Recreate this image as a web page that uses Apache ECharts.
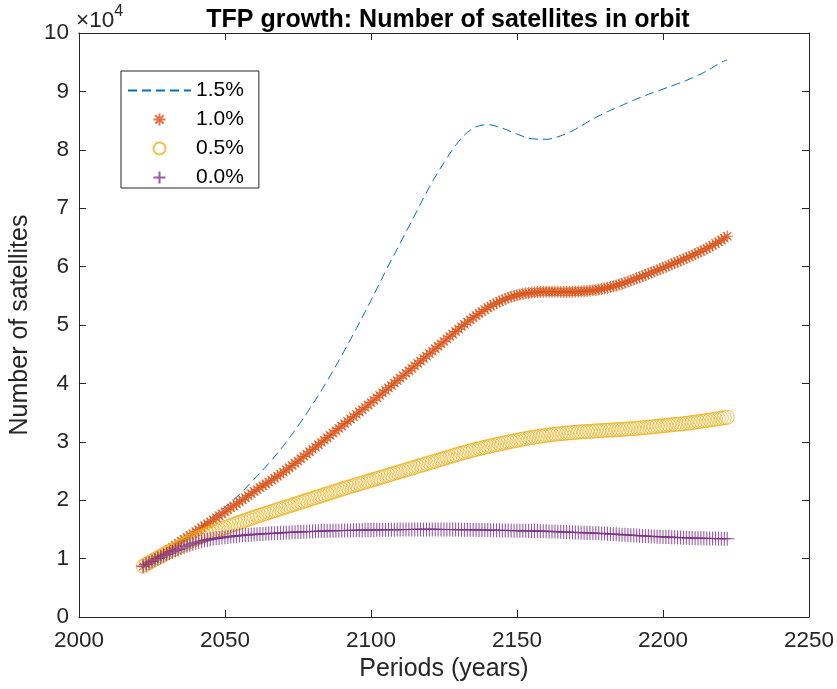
<!DOCTYPE html>
<html>
<head>
<meta charset="utf-8">
<script src="https://cdn.jsdelivr.net/npm/echarts@6/dist/echarts.min.js"></script>
<style>
  html, body { margin: 0; padding: 0; background: #fff; }
  #chart { width: 837px; height: 689px; }
</style>
</head>
<body>
<div id="chart"></div>
<script>
// Simulation output: number of satellites in orbit under four TFP growth rates.
const startYear = 2022;

// 1.5% growth (dashed line), sampled every five years
const years15 = [2022, 2025, 2030, 2035, 2040, 2045, 2050, 2055, 2060, 2065, 2070, 2075, 2080, 2085, 2090,
  2095, 2100, 2105, 2110, 2115, 2120, 2125, 2130, 2135, 2140, 2145, 2150, 2155, 2160, 2165, 2170,
  2175, 2180, 2185, 2190, 2195, 2200, 2205, 2210, 2215, 2220, 2222];
const sats15 = [8700, 9700, 11200, 13000, 14800, 16800, 18800, 21000, 23600, 26300, 29300, 32700, 36400, 40400, 44800,
  49400, 54200, 59200, 64000, 68800, 73600, 77800, 81400, 83700, 84300, 83700, 82700, 81900, 81800, 82400, 83500,
  85000, 86300, 87400, 88500, 89500, 90400, 91300, 92300, 93500, 95000, 95400];

// 1.0% growth, one value per year from 2022
const sats10 = [
  8700, 9030, 9370, 9700, 10000, 10300, 10600, 10900, 11200,
  11560, 11920, 12280, 12640, 13000, 13320, 13640, 13960, 14280, 14600,
  14940, 15280, 15620, 15960, 16300, 16640, 16980, 17320, 17660, 18000,
  18340, 18680, 19020, 19360, 19700, 20060, 20420, 20780, 21140, 21500,
  21820, 22140, 22460, 22780, 23100, 23440, 23780, 24120, 24460, 24800,
  25180, 25560, 25940, 26320, 26700, 27100, 27500, 27900, 28300, 28700,
  29100, 29500, 29900, 30300, 30700, 31100, 31500, 31900, 32300, 32700,
  33100, 33500, 33900, 34300, 34700, 35100, 35500, 35900, 36300, 36700,
  37120, 37540, 37960, 38380, 38800, 39220, 39640, 40060, 40480, 40900,
  41320, 41740, 42160, 42580, 43000, 43420, 43840, 44260, 44680, 45100,
  45520, 45940, 46360, 46780, 47200, 47620, 48040, 48460, 48880, 49300,
  49710, 50110, 50500, 50880, 51250, 51620, 51970, 52310, 52640, 52950,
  53240, 53520, 53780, 54020, 54250, 54460, 54650, 54820, 54970, 55110,
  55230, 55330, 55420, 55490, 55550, 55600, 55640, 55670, 55690, 55700,
  55700, 55700, 55690, 55680, 55670, 55660, 55660, 55670, 55690, 55720,
  55730, 55750, 55780, 55820, 55870, 55930, 56000, 56080, 56170, 56270,
  56380, 56500, 56630, 56770, 56920, 57080, 57250, 57430, 57610, 57800,
  57990, 58180, 58370, 58570, 58770, 58970, 59170, 59370, 59570, 59780,
  59990, 60200, 60410, 60620, 60830, 61040, 61260, 61480, 61700, 61920,
  62150, 62380, 62610, 62850, 63100, 63370, 63650, 63940, 64240, 64550,
  64870, 65200
];

// 0.5% growth, one value per year from 2022
const sats05 = [
  8700, 9000, 9300, 9600, 9880, 10160, 10440, 10720, 11000,
  11240, 11480, 11720, 11960, 12200, 12440, 12680, 12920, 13160, 13400,
  13600, 13800, 14000, 14200, 14400, 14580, 14760, 14940, 15120, 15300,
  15480, 15660, 15840, 16020, 16200, 16380, 16560, 16740, 16920, 17100,
  17260, 17420, 17580, 17740, 17900, 18060, 18220, 18380, 18540, 18700,
  18860, 19020, 19180, 19340, 19500, 19660, 19820, 19980, 20140, 20300,
  20460, 20620, 20780, 20940, 21100, 21260, 21420, 21580, 21740, 21900,
  22050, 22200, 22350, 22500, 22650, 22800, 22950, 23100, 23250, 23400,
  23550, 23700, 23850, 24000, 24150, 24300, 24450, 24600, 24750, 24900,
  25050, 25200, 25350, 25500, 25650, 25800, 25950, 26100, 26250, 26400,
  26550, 26700, 26850, 27000, 27150, 27300, 27450, 27600, 27750, 27900,
  28040, 28180, 28310, 28440, 28570, 28700, 28820, 28940, 29060, 29180,
  29300, 29420, 29530, 29640, 29750, 29860, 29960, 30060, 30160, 30260,
  30360, 30460, 30550, 30640, 30730, 30810, 30890, 30970, 31040, 31110,
  31170, 31230, 31290, 31340, 31390, 31440, 31490, 31540, 31580, 31620,
  31660, 31700, 31740, 31770, 31800, 31830, 31860, 31890, 31920, 31950,
  31980, 32010, 32040, 32070, 32100, 32130, 32160, 32200, 32240, 32280,
  32320, 32360, 32400, 32450, 32500, 32550, 32600, 32650, 32700, 32750,
  32800, 32850, 32900, 32950, 33000, 33050, 33110, 33170, 33230, 33300,
  33370, 33440, 33510, 33580, 33650, 33720, 33800, 33880, 33960, 34040,
  34120, 34200
];

// 0.0% growth, one value per year from 2022
const sats00 = [
  8700, 8980, 9250, 9500, 9760, 10010, 10250, 10480, 10700,
  10930, 11150, 11370, 11580, 11780, 12000, 12190, 12370, 12540, 12700,
  12840, 12970, 13090, 13200, 13300, 13390, 13470, 13540, 13600, 13660,
  13720, 13780, 13840, 13890, 13940, 13980, 14020, 14060, 14100, 14140,
  14170, 14200, 14230, 14260, 14290, 14320, 14350, 14380, 14410, 14440,
  14470, 14490, 14510, 14530, 14550, 14570, 14590, 14610, 14630, 14650,
  14670, 14690, 14710, 14730, 14750, 14760, 14770, 14780, 14790, 14800,
  14810, 14820, 14830, 14840, 14850, 14860, 14870, 14880, 14890, 14900,
  14910, 14920, 14930, 14940, 14950, 14950, 14960, 14960, 14970, 14970,
  14980, 14980, 14990, 14990, 15000, 15000, 15000, 15000, 15000, 15000,
  15000, 15000, 15000, 14990, 14990, 14990, 14980, 14980, 14970, 14970,
  14960, 14960, 14950, 14940, 14930, 14920, 14910, 14900, 14890, 14880,
  14870, 14860, 14850, 14840, 14830, 14820, 14810, 14800, 14790, 14780,
  14770, 14760, 14750, 14740, 14730, 14720, 14710, 14700, 14690, 14680,
  14660, 14640, 14620, 14600, 14580, 14560, 14540, 14520, 14500, 14480,
  14460, 14440, 14420, 14400, 14380, 14360, 14340, 14320, 14300, 14280,
  14250, 14220, 14190, 14160, 14130, 14100, 14070, 14040, 14010, 13980,
  13950, 13920, 13890, 13860, 13830, 13800, 13780, 13760, 13740, 13720,
  13700, 13680, 13660, 13640, 13620, 13600, 13580, 13560, 13540, 13520,
  13500, 13490, 13480, 13470, 13460, 13450, 13440, 13430, 13420, 13410,
  13400, 13390
];

const seriesNames = ['1.5%', '1.0%', '0.5%', '0.0%'];
const xTicks = [2000, 2050, 2100, 2150, 2200, 2250];
const yTickLabels = ['0', '1', '2', '3', '4', '5', '6', '7', '8', '9', '10'];

const axisInk = '#262626';
const font = '"Liberation Sans", Arial, Helvetica, sans-serif';
const colors = { g15: '#0072BD', g10: '#D95319', g05: '#EDB120', g00: '#7E2F8E' };
const clear = 'rgba(0,0,0,0)';

function yearly(values) {
  return values.map((v, i) => [startYear + i, v]);
}

// stroked marker outlines: asterisk (plus + cross) and plus
const asterisk = 'path://M0,-10L0,10M-10,0L10,0M-7.07,-7.07L7.07,7.07M-7.07,7.07L7.07,-7.07';
const plus = 'path://M0,-10L0,10M-10,0L10,0';

const chart = echarts.init(document.getElementById('chart'), null, { renderer: 'canvas' });

const frameAxisX = {
  type: 'value', min: xTicks[0], max: xTicks[xTicks.length - 1], interval: 50,
  axisLine: { show: true, onZero: false, lineStyle: { color: axisInk, width: 1 } },
  axisTick: { show: true, inside: true, length: 7, lineStyle: { color: axisInk, width: 1 } },
  splitLine: { show: false }
};
const frameAxisY = {
  type: 'value', min: 0, max: 100000, interval: 10000,
  axisLine: { show: true, onZero: false, lineStyle: { color: axisInk, width: 1 } },
  axisTick: { show: true, inside: true, length: 7, lineStyle: { color: axisInk, width: 1 } },
  splitLine: { show: false }
};

chart.setOption({
  animation: false,
  backgroundColor: '#ffffff',
  textStyle: { fontFamily: font },
  title: {
    text: 'TFP growth: Number of satellites in orbit',
    left: 443, top: 3, textAlign: 'center',
    textStyle: { fontFamily: font, fontWeight: 'bold', fontSize: 25, color: '#000' }
  },
  grid: { left: 74, right: 24, top: 33, bottom: 72, containLabel: false },
  legend: {
    orient: 'vertical', left: 121, top: 71,
    data: seriesNames,
    itemWidth: 63, itemHeight: 12, itemGap: 8,
    padding: [9, 15, 0, 6],
    borderColor: axisInk, borderWidth: 1, backgroundColor: '#fff',
    textStyle: { fontFamily: font, fontSize: 21, color: '#000' },
    selectedMode: false
  },
  xAxis: [
    Object.assign({}, frameAxisX, {
      position: 'bottom',
      name: 'Periods (years)', nameLocation: 'middle', nameGap: 35,
      nameTextStyle: { fontFamily: font, fontSize: 25, color: axisInk },
      axisLabel: { show: true, margin: 12, fontFamily: font, fontSize: 22.5, color: axisInk,
        formatter: (v) => String(v) }
    }),
    Object.assign({}, frameAxisX, { position: 'top', axisLabel: { show: false } })
  ],
  yAxis: [
    Object.assign({}, frameAxisY, {
      position: 'left',
      name: 'Number of satellites', nameLocation: 'middle', nameGap: 37,
      nameTextStyle: { fontFamily: font, fontSize: 25, color: axisInk },
      axisLabel: {
        show: true, margin: 10, fontFamily: font, fontSize: 22.5, color: axisInk,
        formatter: (v) => yTickLabels[Math.round(v / 10000)]
      }
    }),
    Object.assign({}, frameAxisY, { position: 'right', axisLabel: { show: false } })
  ],
  graphic: [{
    type: 'text', left: 76, top: 4,
    style: {
      text: '{a|×10}{b|4}',
      rich: {
        a: { fontFamily: font, fontSize: 22.5, fill: axisInk, verticalAlign: 'bottom', lineHeight: 28 },
        b: { fontFamily: font, fontSize: 16, fill: axisInk, verticalAlign: 'top', lineHeight: 28, padding: [0, 0, 12, 0] }
      }
    }
  }],
  series: [
    {
      name: seriesNames[0], type: 'line',
      data: years15.map((y, i) => [y, sats15[i]]),
      smooth: 0.35, showSymbol: false, symbol: 'none',
      lineStyle: { color: colors.g15, width: 1, type: [9, 5] },
      itemStyle: { color: clear, borderColor: clear },
      z: 2
    },
    {
      name: seriesNames[1], type: 'scatter', data: yearly(sats10),
      symbol: asterisk, symbolSize: 12,
      itemStyle: { color: clear, borderColor: colors.g10, borderWidth: 1.2 },
      z: 3
    },
    {
      name: seriesNames[2], type: 'scatter', data: yearly(sats05),
      symbol: 'circle', symbolSize: 14,
      itemStyle: { color: clear, borderColor: colors.g05, borderWidth: 1 },
      z: 4
    },
    {
      name: seriesNames[3], type: 'scatter', data: yearly(sats00),
      symbol: plus, symbolSize: 14,
      itemStyle: { color: clear, borderColor: colors.g00, borderWidth: 1.1 },
      z: 5
    }
  ]
});
</script>
</body>
</html>
